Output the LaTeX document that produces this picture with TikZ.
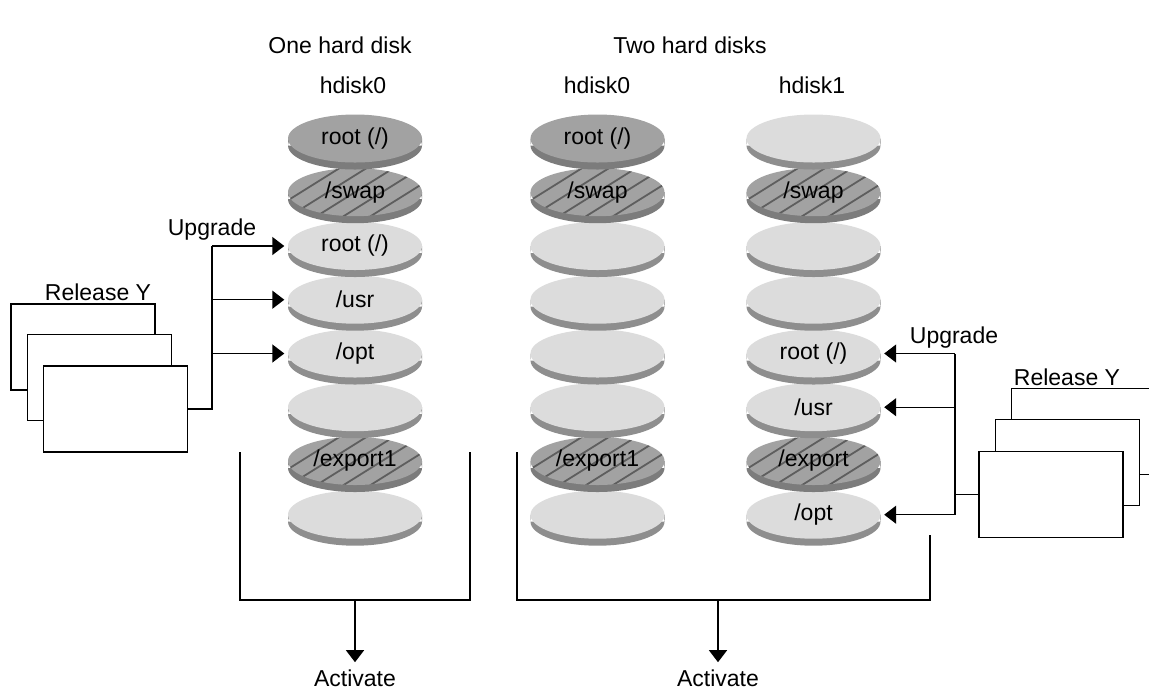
\documentclass[tikz,border=0pt]{standalone}
\usepackage{fontspec}
\setmainfont{Liberation Sans}
\usetikzlibrary{positioning,shapes.geometric,arrows.meta,calc}
\definecolor{dkface}{HTML}{A2A2A2}
\definecolor{ltface}{HTML}{DCDCDC}
\definecolor{dkrim}{HTML}{7C7C7C}
\definecolor{ltrim}{HTML}{8E8E8E}
\definecolor{hatchgrey}{HTML}{5E5E5E}

\tikzset{
  lbl/.style={font=\fontsize{11.5}{13}\selectfont},
  disk/.style={lbl,ellipse,fill=ltface,minimum width=67pt,minimum height=24pt,inner sep=0pt},
  darkdisk/.style={disk,fill=dkface},
  hatchdisk/.style={darkdisk,path picture={
      \foreach \k in {-6,...,6}
        \draw[hatchgrey,line width=0.9pt] ($(path picture bounding box.center)+(\k*27-48,30)$) -- ++(112,-70);}},
  relbox/.style={draw,fill=white,minimum width=72pt,minimum height=43pt,inner sep=0pt},
  arr/.style={-{Triangle[length=6pt,width=9pt]}}
}

\begin{document}
\begin{tikzpicture}[x=0.5pt,y=-0.5pt,line width=0.7pt]
  \useasboundingbox (0,0) rectangle (1149,692);
  \clip (0,0) rectangle (1149,692);

  % headings
  \node[lbl] (one) at (340,45) {One hard disk};
  \node[lbl] (two) at (690,45) {Two hard disks};
  \node[lbl] (hda) at (353,85) {hdisk0};
  \node[lbl] (hdb) at (597,85) {hdisk0};
  \node[lbl] (hdc) at (812,85) {hdisk1};

  % one hard disk
  \def\cx{355}
  \foreach \n/\y/\s/\r/\lab in {
    sa8/514.7/disk/ltrim/{},
    sa7/461/hatchdisk/dkrim/{/export1},
    sa6/407.2/disk/ltrim/{},
    sa5/353.5/disk/ltrim/{/opt},
    sa4/299.7/disk/ltrim/{/usr},
    sa3/246/disk/ltrim/{root (/)},
    sa2/192.2/hatchdisk/dkrim/{/swap},
    sa1/138.5/darkdisk/dkrim/{root (/)}}
    {\fill[\r] (\cx-67,\y) rectangle (\cx+67,\y+7) (\cx,\y+7) ellipse (67 and 24);
     \node[\s] (\n) at (\cx,\y) {\lab};}

  % two hard disks, hdisk0
  \def\cx{597.5}
  \foreach \n/\y/\s/\r/\lab in {
    da8/514.7/disk/ltrim/{},
    da7/461/hatchdisk/dkrim/{/export1},
    da6/407.2/disk/ltrim/{},
    da5/353.5/disk/ltrim/{},
    da4/299.7/disk/ltrim/{},
    da3/246/disk/ltrim/{},
    da2/192.2/hatchdisk/dkrim/{/swap},
    da1/138.5/darkdisk/dkrim/{root (/)}}
    {\fill[\r] (\cx-67,\y) rectangle (\cx+67,\y+7) (\cx,\y+7) ellipse (67 and 24);
     \node[\s] (\n) at (\cx,\y) {\lab};}

  % two hard disks, hdisk1
  \def\cx{813.5}
  \foreach \n/\y/\s/\r/\lab in {
    db8/514.7/disk/ltrim/{/opt},
    db7/461/hatchdisk/dkrim/{/export},
    db6/407.2/disk/ltrim/{/usr},
    db5/353.5/disk/ltrim/{root (/)},
    db4/299.7/disk/ltrim/{},
    db3/246/disk/ltrim/{},
    db2/192.2/hatchdisk/dkrim/{/swap},
    db1/138.5/disk/ltrim/{}}
    {\fill[\r] (\cx-67,\y) rectangle (\cx+67,\y+7) (\cx,\y+7) ellipse (67 and 24);
     \node[\s] (\n) at (\cx,\y) {\lab};}

  % release media
  \foreach \n/\x/\y in {rl1/83/347, rl2/99.5/377.5, rl3/115.5/409,
                        rr1/1083.5/431.5, rr2/1067.5/462.5, rr3/1051/494.5}
    \node[relbox] (\n) at (\x,\y) {};
  \node[lbl] (relL) at (98,292) {Release Y};
  \node[lbl] (relR) at (1067,377) {Release Y};
  \node[lbl] (upL) at (212,230) {Upgrade};
  \node[lbl] (upR) at (954,338) {Upgrade};

  % upgrade arrows
  \coordinate (jl) at (212,0);
  \coordinate (jr) at (955,0);
  \draw (rl3.east) -| (jl |- sa3.west);
  \foreach \d in {sa3,sa4,sa5}
    \draw[arr] (jl |- \d.west) -- ([xshift=-1.5pt]\d.west);
  \draw (rr3.west) -| (jr |- db5.east);
  \draw (jr |- rr3.west) -- (jr |- db8.east);
  \foreach \d in {db5,db6,db8}
    \draw[arr] (jr |- \d.east) -- ([xshift=1.5pt]\d.east);

  % activate
  \node[lbl] (actL) at (355,678) {Activate};
  \node[lbl] (actR) at (718,678) {Activate};
  \coordinate (bl0) at (240,452);
  \coordinate (bl1) at (470,452);
  \coordinate (br0) at (517,452);
  \coordinate (br1) at (930,535);
  \draw (bl0) -- (bl0 |- 0,600) -- (bl1 |- 0,600) -- (bl1);
  \draw (br0) -- (br0 |- 0,600) -- (br1 |- 0,600) -- (br1);
  \draw[arr] (actL |- 0,600) -- (actL.north);
  \draw[arr] (actR |- 0,600) -- (actR.north);
\end{tikzpicture}
\end{document}
